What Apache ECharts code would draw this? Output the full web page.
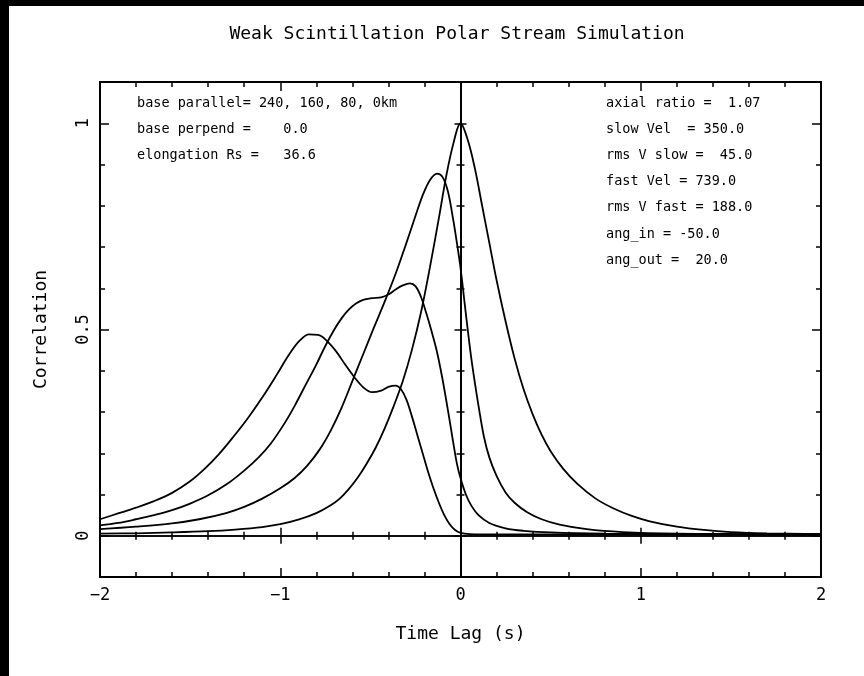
<!DOCTYPE html>
<html><head><meta charset="utf-8">
<script src="https://cdn.jsdelivr.net/npm/echarts@6/dist/echarts.min.js"></script>
<style>html,body{margin:0;padding:0;background:#fff}#c{width:864px;height:676px}</style>
</head><body><div id="c"></div>
<script>
// ---------- data ----------
const titleText = 'Weak Scintillation Polar Stream Simulation';
const xName = 'Time Lag (s)';
const yName = 'Correlation';
const xRange = [-2, 2];
const xMajor = 1;
const yRange = [-0.1, 1.1];
const yMajorTicks = [0, 0.5, 1];
const yMinorTicks = [0.1, 0.2, 0.3, 0.4, 0.6, 0.7, 0.8, 0.9];
const leftNotes = ['base parallel= 240, 160, 80, 0km', 'base perpend =    0.0', 'elongation Rs =   36.6'];
const rightNotes = ['axial ratio =  1.07', 'slow Vel  = 350.0', 'rms V slow =  45.0', 'fast Vel = 739.0', 'rms V fast = 188.0', 'ang_in = -50.0', 'ang_out =  20.0'];

const curve240 = [[-2,0.04],[-1.9,0.054],[-1.8,0.068],[-1.7,0.084],[-1.6,0.104],[-1.5,0.132],[-1.42,0.162],[-1.34,0.198],[-1.26,0.24],[-1.18,0.285],[-1.1,0.335],[-1.02,0.39],[-0.95,0.44],[-0.89,0.474],[-0.84,0.488],[-0.79,0.487],[-0.74,0.472],[-0.69,0.447],[-0.64,0.415],[-0.59,0.385],[-0.54,0.36],[-0.49,0.348],[-0.44,0.352],[-0.4,0.361],[-0.36,0.364],[-0.33,0.355],[-0.3,0.33],[-0.27,0.29],[-0.24,0.245],[-0.21,0.2],[-0.18,0.155],[-0.15,0.115],[-0.12,0.08],[-0.09,0.05],[-0.06,0.028],[-0.03,0.014],[0,0.007],[0.05,0.004],[0.2,0.003],[2,0.003]];
const curve160 = [[-2,0.025],[-1.9,0.031],[-1.8,0.04],[-1.7,0.05],[-1.6,0.062],[-1.5,0.078],[-1.4,0.098],[-1.3,0.124],[-1.2,0.158],[-1.12,0.19],[-1.05,0.225],[-0.98,0.27],[-0.92,0.315],[-0.86,0.365],[-0.8,0.415],[-0.75,0.46],[-0.7,0.5],[-0.66,0.527],[-0.62,0.548],[-0.58,0.563],[-0.54,0.572],[-0.49,0.576],[-0.44,0.578],[-0.4,0.585],[-0.36,0.597],[-0.32,0.607],[-0.28,0.612],[-0.25,0.605],[-0.22,0.58],[-0.19,0.54],[-0.16,0.495],[-0.13,0.445],[-0.1,0.38],[-0.07,0.305],[-0.04,0.225],[-0.02,0.175],[0,0.14],[0.03,0.1],[0.06,0.073],[0.1,0.05],[0.16,0.031],[0.25,0.018],[0.35,0.012],[0.5,0.008],[0.8,0.005],[1.2,0.004],[2,0.003]];
const curve80 = [[-2,0.016],[-1.8,0.022],[-1.6,0.03],[-1.45,0.04],[-1.3,0.055],[-1.2,0.07],[-1.1,0.09],[-1.0,0.115],[-0.92,0.14],[-0.85,0.17],[-0.78,0.21],[-0.72,0.255],[-0.66,0.31],[-0.6,0.375],[-0.54,0.44],[-0.48,0.505],[-0.42,0.568],[-0.36,0.635],[-0.3,0.71],[-0.25,0.775],[-0.21,0.825],[-0.17,0.862],[-0.13,0.878],[-0.1,0.87],[-0.07,0.835],[-0.04,0.765],[-0.02,0.71],[0,0.65],[0.02,0.575],[0.04,0.5],[0.06,0.43],[0.08,0.37],[0.1,0.315],[0.13,0.24],[0.16,0.19],[0.2,0.145],[0.25,0.105],[0.3,0.08],[0.37,0.057],[0.45,0.04],[0.55,0.027],[0.7,0.016],[0.9,0.009],[1.2,0.005],[1.6,0.004],[2,0.003]];
const curve0 = [[-2,0.005],[-1.8,0.006],[-1.6,0.008],[-1.4,0.011],[-1.25,0.015],[-1.1,0.021],[-1.0,0.028],[-0.9,0.039],[-0.8,0.055],[-0.72,0.074],[-0.67,0.09],[-0.62,0.113],[-0.57,0.141],[-0.52,0.175],[-0.47,0.214],[-0.42,0.261],[-0.37,0.315],[-0.32,0.375],[-0.27,0.45],[-0.22,0.54],[-0.17,0.65],[-0.12,0.77],[-0.08,0.87],[-0.04,0.95],[0,1.0],[0.04,0.96],[0.08,0.89],[0.12,0.8],[0.16,0.71],[0.2,0.62],[0.25,0.52],[0.3,0.43],[0.35,0.355],[0.4,0.295],[0.45,0.245],[0.5,0.205],[0.57,0.162],[0.65,0.125],[0.75,0.09],[0.85,0.066],[0.95,0.048],[1.05,0.035],[1.2,0.022],[1.35,0.014],[1.5,0.009],[1.7,0.006],[2,0.004]];
const curves = [curve240, curve160, curve80, curve0];
const curveNames = ['240 km', '160 km', '80 km', '0 km'];

// ---------- chart ----------
const FONT = 'DejaVu Sans Mono';
const BLACK = '#000';
const chart = echarts.init(document.getElementById('c'), null, {renderer: 'canvas'});

function xAx(position, inside, len, minorLen, onZero, extra) {
  return Object.assign({
    type: 'value', min: xRange[0], max: xRange[1], interval: xMajor, position: position,
    splitLine: {show: false},
    axisLine: {show: true, onZero: onZero, onZeroAxisIndex: 0, lineStyle: {color: BLACK, width: onZero ? 1.5 : 2}},
    axisTick: {show: true, inside: inside, length: len, lineStyle: {color: BLACK, width: 1.5}},
    minorTick: {show: true, splitNumber: 5, length: minorLen, lineStyle: {color: BLACK, width: 1.5}},
    axisLabel: {show: false}
  }, extra || {});
}
function yAx(position, ticks, inside, len, onZero, extra) {
  return Object.assign({
    type: 'value', min: yRange[0], max: yRange[1], position: position,
    splitLine: {show: false},
    axisLine: {show: true, onZero: onZero, onZeroAxisIndex: 0, lineStyle: {color: BLACK, width: onZero ? 1.5 : 2}},
    axisTick: {show: true, inside: inside, length: len, customValues: ticks, lineStyle: {color: BLACK, width: 1.5}},
    axisLabel: {show: false}
  }, extra || {});
}

const option = {
  animation: false,
  backgroundColor: '#fff',
  title: {text: titleText, left: 452, top: 20, textAlign: 'center',
    textStyle: {fontFamily: FONT, fontSize: 18, fontWeight: 'normal', color: BLACK}},
  grid: {left: 100, right: 43, top: 82, bottom: 99, containLabel: false},
  xAxis: [
    xAx('bottom', true, 9, 5, false, {
      name: xName, nameLocation: 'middle', nameGap: 48,
      nameTextStyle: {fontFamily: FONT, fontSize: 18, color: BLACK},
      axisLabel: {show: true, margin: 10, fontFamily: FONT, fontSize: 17, color: BLACK,
        formatter: v => (v < 0 ? '\u2212' + Math.abs(v) : String(v))}
    }),
    xAx('top', true, 9, 5, false),
    xAx('bottom', true, 8, 4, true),
    xAx('bottom', false, 8, 4, true)
  ],
  yAxis: [
    yAx('left', yMajorTicks, true, 9, false, {
      name: yName, nameLocation: 'middle', nameGap: 50, nameRotate: 90,
      nameTextStyle: {fontFamily: FONT, fontSize: 18, color: BLACK},
      axisLabel: {show: true, customValues: yMajorTicks, rotate: 90, margin: 8,
        fontFamily: FONT, fontSize: 17, color: BLACK, formatter: v => String(+v.toFixed(2))}
    }),
    yAx('left', yMinorTicks, true, 5, false),
    yAx('right', yMajorTicks, true, 9, false),
    yAx('right', yMinorTicks, true, 5, false),
    yAx('left', yMajorTicks, true, 6, true),
    yAx('left', yMajorTicks, false, 6, true),
    yAx('left', yMinorTicks, true, 4, true),
    yAx('left', yMinorTicks, false, 4, true)
  ],
  series: curves.map((c, i) => ({
    name: curveNames[i], type: 'line', data: c, xAxisIndex: 0, yAxisIndex: 0,
    showSymbol: false, symbol: 'none', smooth: 0.35, silent: true, clip: true,
    lineStyle: {color: BLACK, width: 1.8}
  })),
  graphic: [
    {type: 'rect', shape: {x: 0, y: 0, width: 9, height: 676}, style: {fill: BLACK}},
    {type: 'rect', shape: {x: 0, y: 0, width: 864, height: 6}, style: {fill: BLACK}}
  ].concat(leftNotes.map((t, i) => ({
    type: 'text', x: 137, y: 103 + i * 26,
    style: {text: t, fontFamily: FONT, fontSize: 13.5, fill: BLACK, verticalAlign: 'middle'}
  }))).concat(rightNotes.map((t, i) => ({
    type: 'text', x: 606, y: 103 + i * 26.2,
    style: {text: t, fontFamily: FONT, fontSize: 13.5, fill: BLACK, verticalAlign: 'middle'}
  })))
};
chart.setOption(option);
</script>
</body></html>
